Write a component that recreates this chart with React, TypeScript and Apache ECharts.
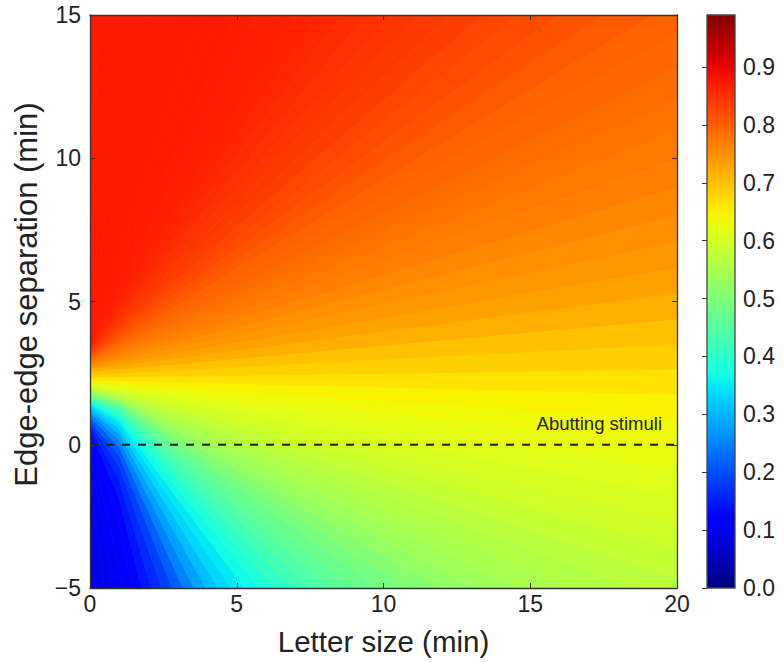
import React, { useEffect, useRef } from 'react';
import * as echarts from 'echarts';

// ---- data ----
// Axis ranges and ticks
const xRange = [0, 20];
const xTickStep = 5;
const yRange = [-5, 15];
const yTickStep = 5;
const colorRange = [0, 0.99];
const colorTickStep = 0.1;

// Iso-valued rays: away from the left edge they fan out of one point (letter size 0, separation ~2.2 min)
const rayOrigin = [0, 2.2];
// ray directions (degrees, data units, seen from rayOrigin) and the value read along each ray
const rayAnglesDeg = [
  -90, -87.5, -85, -82.5, -80, -77.5, -75, -72.5, -70, -67.5, -65, -62.5, -60, -57.5, -55, -52.5,
  -50, -47.5, -45, -42.5, -40, -37.5, -35, -32.5, -30, -27.5, -25, -22.5, -20, -17.5, -15, -12.5,
  -10, -7.5, -5, -2.5, 0, 2.5, 5, 7.5, 10, 12.5, 15, 17.5, 20, 22.5, 25, 27.5, 30, 32.5, 35, 37.5,
  40, 42.5, 45, 47.5, 50, 52.5, 55, 57.5, 60, 62.5, 65, 67.5, 70, 72.5, 75, 77.5, 80, 82.5, 85, 87.5, 90,
];
const rayValues = [
  0.088, 0.09, 0.095, 0.103, 0.113, 0.125, 0.145, 0.163, 0.185, 0.215, 0.25, 0.28, 0.308, 0.333, 0.35, 0.367,
  0.385, 0.405, 0.425, 0.443, 0.46, 0.474, 0.49, 0.507, 0.523, 0.537, 0.549, 0.56, 0.572, 0.582, 0.594, 0.604,
  0.614, 0.624, 0.634, 0.646, 0.664, 0.682, 0.698, 0.718, 0.731, 0.742, 0.75, 0.759, 0.767, 0.774, 0.781, 0.788,
  0.792, 0.797, 0.806, 0.814, 0.822, 0.829, 0.835, 0.84, 0.845, 0.85, 0.855, 0.86, 0.864, 0.867, 0.869, 0.871,
  0.872, 0.873, 0.873, 0.874, 0.874, 0.874, 0.875, 0.875, 0.875,
];
// where each iso-line meets the left edge (letter size 0), separation in min
const rayStartY = [
  -3.0, -1.5, -0.5, 0.0, 0.25, 0.45, 0.6, 0.7, 0.78, 0.9, 1.05, 1.17, 1.27, 1.36, 1.42, 1.46,
  1.5, 1.54, 1.58, 1.62, 1.66, 1.69, 1.73, 1.77, 1.81, 1.85, 1.89, 1.93, 1.96, 1.99, 2.03, 2.06,
  2.1, 2.14, 2.17, 2.22, 2.3, 2.4, 2.5, 2.6, 2.67, 2.73, 2.78, 2.82, 2.86, 2.9, 2.93, 2.96,
  2.98, 3.0, 3.04, 3.08, 3.12, 3.15, 3.18, 3.2, 3.23, 3.26, 3.29, 3.32, 3.35, 3.38, 3.41, 3.44,
  3.47, 3.5, 3.53, 3.56, 3.6, 3.65, 3.7, 3.8, 4.0,
];
// lower iso-lines bend at this letter size onto the ray from rayOrigin (fully below rayBendFullDeg)
const rayBendX = 1.0;
const rayBendFullDeg = -40;

// Dashed reference line (separation = 0)
const abuttingLine = [
  [0, 0],
  [20, 0],
];
const abuttingLabel = 'Abutting stimuli';

const xTitle = 'Letter size (min)';
const yTitle = 'Edge-edge separation (min)';

// ---- styles: matplotlib "jet", sampled every 0.025 ----
const JET = [
  '#000080', '#00009D', '#0000B9', '#0000D6', '#0000F3', '#0000FF', '#001AFF', '#0033FF', '#004DFF',
  '#0066FF', '#0080FF', '#0099FF', '#00B3FF', '#00CCFF', '#00E6F7', '#15FFE2', '#29FFCE', '#3EFFB9',
  '#52FFA4', '#67FF90', '#7BFF7B', '#90FF67', '#A4FF52', '#B9FF3E', '#CEFF29', '#E2FF15', '#F7F500',
  '#FFDE00', '#FFC600', '#FFAF00', '#FF9700', '#FF8000', '#FF6800', '#FF5000', '#FF3900', '#FF2100',
  '#F30900', '#D60000', '#B90000', '#9D0000', '#800000',
];
const FONT = '"Liberation Sans", Arial, Helvetica, sans-serif';
const INK = '#222';
const FRAME = '#333';

const fmtTick = (v: number) => (v < 0 ? '\u2212' + Math.abs(v) : String(v));

const toRad = Math.PI / 180;

// point where the ray from rayOrigin at angle aDeg leaves the plot box
function exitPoint(aDeg: number): number[] {
  const dx = Math.cos(aDeg * toRad);
  const dy = Math.sin(aDeg * toRad);
  let t = Infinity;
  if (dx > 1e-9) t = Math.min(t, (xRange[1] - rayOrigin[0]) / dx);
  if (dy > 1e-9) t = Math.min(t, (yRange[1] - rayOrigin[1]) / dy);
  if (dy < -1e-9) t = Math.min(t, (yRange[0] - rayOrigin[1]) / dy);
  return [rayOrigin[0] + t * dx, rayOrigin[1] + t * dy];
}

// boundary j lies between ray j-1 and ray j; a polyline from the left edge outwards
function boundary(j: number): number[][] {
  const n = rayAnglesDeg.length;
  if (j === 0) return [[-1, rayStartY[0]], [-1, -300]];
  if (j === n) return [[-1, rayStartY[n - 1]], [-1, 300]];
  const a = (rayAnglesDeg[j - 1] + rayAnglesDeg[j]) / 2;
  const b = (rayStartY[j - 1] + rayStartY[j]) / 2;
  const pts: number[][] = [[0, b]];
  const E = exitPoint(a);
  const w = Math.min(1, Math.max(0, a / rayBendFullDeg));
  if (E[0] > rayBendX && w > 0) {
    const yStraight = b + (E[1] - b) * (rayBendX / E[0]);
    const yPivot = rayOrigin[1] + rayBendX * Math.tan(a * toRad);
    pts.push([rayBendX, (1 - w) * yStraight + w * yPivot]);
  }
  pts.push(E);
  const last = pts[pts.length - 2];
  const dx = E[0] - last[0];
  const dy = E[1] - last[1];
  const L = Math.hypot(dx, dy) || 1;
  pts.push([E[0] + (dx / L) * 300, E[1] + (dy / L) * 300]);
  return pts;
}

export default function App() {
  const ref = useRef<HTMLDivElement>(null);

  useEffect(() => {
    if (!ref.current) return;
    const chart = echarts.init(ref.current, undefined, { renderer: 'svg' });

    const tickStyle = { show: true, inside: true, length: 5, lineStyle: { color: FRAME, width: 1 } };
    const lineStyle = { show: true, onZero: false, lineStyle: { color: FRAME, width: 1.3 } };
    const labelStyle = { fontFamily: FONT, fontSize: 23, color: INK };

    const option: any = {
      animation: false,
      backgroundColor: '#fff',
      grid: [
        { left: 90, top: 15, width: 587, height: 573, containLabel: false },
        { left: 707, top: 15, width: 28, height: 573, containLabel: false },
      ],
      xAxis: [
        {
          type: 'value', gridIndex: 0, min: xRange[0], max: xRange[1], interval: xTickStep, position: 'bottom', z: 5,
          axisLine: lineStyle, axisTick: tickStyle, splitLine: { show: false },
          axisLabel: { ...labelStyle, margin: 4, formatter: fmtTick },
          name: xTitle, nameLocation: 'middle', nameGap: 38,
          nameTextStyle: { fontFamily: FONT, fontSize: 29.5, color: INK },
        },
        {
          type: 'value', gridIndex: 0, min: xRange[0], max: xRange[1], interval: xTickStep, position: 'top', z: 5,
          axisLine: lineStyle, axisTick: tickStyle, splitLine: { show: false }, axisLabel: { show: false },
        },
        { type: 'value', gridIndex: 1, min: 0, max: 1, show: false },
      ],
      yAxis: [
        {
          type: 'value', gridIndex: 0, min: yRange[0], max: yRange[1], interval: yTickStep, position: 'left', z: 5,
          axisLine: lineStyle, axisTick: tickStyle, splitLine: { show: false },
          axisLabel: { ...labelStyle, margin: 9, formatter: fmtTick },
          name: yTitle, nameLocation: 'middle', nameGap: 48,
          nameTextStyle: { fontFamily: FONT, fontSize: 31, color: INK, padding: [0, 0, 0, 14] },
        },
        {
          type: 'value', gridIndex: 0, min: yRange[0], max: yRange[1], interval: yTickStep, position: 'right', z: 5,
          axisLine: lineStyle, axisTick: tickStyle, splitLine: { show: false }, axisLabel: { show: false },
        },
        {
          type: 'value', gridIndex: 1, min: colorRange[0], max: colorRange[1], interval: colorTickStep, position: 'right', z: 5,
          axisLine: { show: false }, axisTick: tickStyle, splitLine: { show: false },
          axisLabel: { ...labelStyle, margin: 8, showMaxLabel: false, formatter: (v: number) => v.toFixed(1) },
        },
      ],
      visualMap: {
        show: false, type: 'continuous', seriesIndex: 0, dimension: 1,
        min: colorRange[0], max: colorRange[1], inRange: { color: JET },
      },
      series: [
        {
          type: 'custom', xAxisIndex: 0, yAxisIndex: 0, clip: true, silent: true, z: 2,
          data: rayAnglesDeg.map((a, i) => [a, rayValues[i], rayStartY[i]]),
          renderItem: (params: any, api: any) => {
            const i = params.dataIndex as number;
            const lower = boundary(i);
            const upper = boundary(i + 1).slice().reverse();
            const pts = lower.concat(upper).map((p) => api.coord(p));
            const c = api.visual('color');
            return {
              type: 'polygon',
              shape: { points: pts },
              style: { fill: c, stroke: c, lineWidth: 0.8 },
            };
          },
        },
        {
          type: 'custom', xAxisIndex: 2, yAxisIndex: 2, silent: true, z: 2,
          data: [[0, colorRange[1]]],
          renderItem: (params: any, api: any) => {
            const tl = api.coord([0, colorRange[1]]);
            const br = api.coord([1, colorRange[0]]);
            const stops = JET.slice().reverse().map((c, k) => ({ offset: k / (JET.length - 1), color: c }));
            return {
              type: 'rect',
              shape: { x: tl[0], y: tl[1], width: br[0] - tl[0], height: br[1] - tl[1] },
              style: { fill: new echarts.graphic.LinearGradient(0, 0, 0, 1, stops), stroke: '#444', lineWidth: 1.3 },
            };
          },
        },
        {
          type: 'line', xAxisIndex: 0, yAxisIndex: 0, z: 4, silent: true,
          data: abuttingLine, symbol: 'none',
          lineStyle: { color: INK, width: 2, type: [8, 8] },
        },
      ],
      graphic: [
        {
          type: 'text', z: 10, silent: true,
          style: { text: abuttingLabel, x: 662, y: 423.5, align: 'right', verticalAlign: 'middle', font: `18.5px ${FONT}`, fill: INK },
        },
      ],
    };
    chart.setOption(option);
    return () => chart.dispose();
  }, []);

  return <div ref={ref} style={{ position: 'absolute', left: 0, top: 0, width: 784, height: 662, background: '#fff' }} />;
}
